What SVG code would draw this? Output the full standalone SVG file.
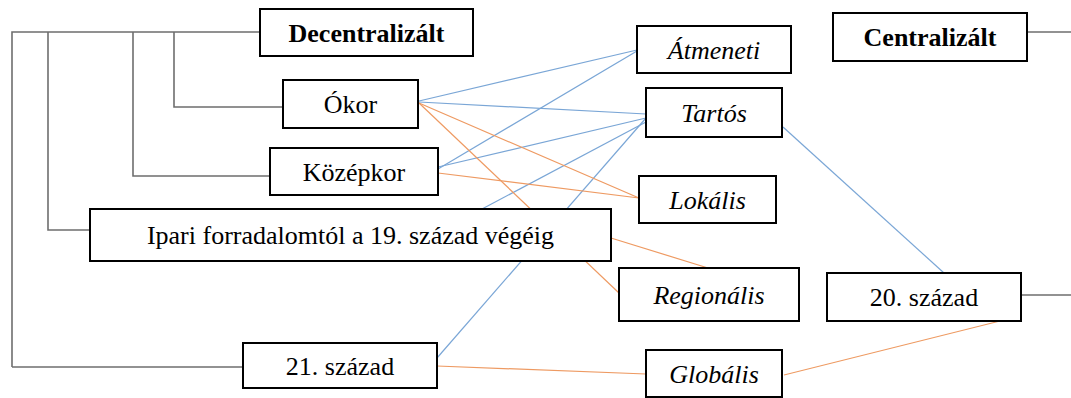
<svg xmlns="http://www.w3.org/2000/svg" width="1071" height="398" viewBox="0 0 1071 398">
<style>
.box{fill:#fff;stroke:#000;stroke-width:2}
text{font-family:'Liberation Serif','DejaVu Serif','Times New Roman',serif;font-size:26px;fill:#000;text-anchor:middle}
.b{font-weight:bold}
.i{font-style:italic}
.tree{fill:none;stroke:#6e6e6e;stroke-width:1.6}
.blue{stroke:#7aa6d6;stroke-width:1.2;fill:none}
.orange{stroke:#ee9a62;stroke-width:1.2;fill:none}
</style>
<rect width="1071" height="398" fill="#fff"/>
<g id="connectors">
<path class="tree" d="M12,367 V32 H260"/>
<path class="tree" d="M48,32 V230 H90"/>
<path class="tree" d="M133,32 V176 H270"/>
<path class="tree" d="M174,32 V107 H283"/>
<path class="tree" d="M243,367 H12"/>
<path class="tree" d="M1027,32 H1071"/>
<path class="tree" d="M1021,295 H1071"/>
<line class="blue" x1="419" y1="101" x2="637" y2="50"/>
<line class="blue" x1="419" y1="102" x2="646" y2="114"/>
<line class="blue" x1="438" y1="169" x2="637" y2="51"/>
<line class="blue" x1="438" y1="167" x2="646" y2="118"/>
<line class="blue" x1="482" y1="209" x2="646" y2="122"/>
<line class="blue" x1="437" y1="358" x2="646" y2="118"/>
<line class="blue" x1="783" y1="127" x2="944" y2="273"/>
<line class="orange" x1="419" y1="103" x2="639" y2="198"/>
<line class="orange" x1="419" y1="103" x2="619" y2="293"/>
<line class="orange" x1="438" y1="173" x2="639" y2="198"/>
<line class="orange" x1="611" y1="238" x2="708" y2="268"/>
<line class="orange" x1="437" y1="366" x2="646" y2="374"/>
<line class="orange" x1="784" y1="375" x2="1000" y2="321"/>
</g>
<g id="decentralizalt"><rect class="box" x="260" y="9" width="213" height="47"/><text class="b" x="366.5" y="42" font-family="Liberation Serif, serif">Decentralizált</text></g>
<g id="okor"><rect class="box" x="283" y="80" width="135" height="48"/><text x="350.5" y="113" font-family="Liberation Serif, serif">Ókor</text></g>
<g id="kozepkor"><rect class="box" x="270" y="148" width="168" height="47"/><text x="354" y="181" font-family="Liberation Serif, serif">Középkor</text></g>
<g id="ipari"><rect class="box" x="90" y="209" width="521" height="52"/><text x="350.5" y="244" font-family="Liberation Serif, serif">Ipari forradalomtól a 19. század végéig</text></g>
<g id="szazad21"><rect class="box" x="243" y="343" width="194" height="45"/><text x="340" y="375" font-family="Liberation Serif, serif">21. század</text></g>
<g id="atmeneti"><rect class="box" x="637" y="26" width="154" height="47"/><text class="i" x="714" y="59" font-family="Liberation Serif, serif">Átmeneti</text></g>
<g id="tartos"><rect class="box" x="646" y="88" width="136" height="49"/><text class="i" x="714" y="122" font-family="Liberation Serif, serif">Tartós</text></g>
<g id="lokalis"><rect class="box" x="639" y="176" width="137" height="47"/><text class="i" x="707.5" y="209" font-family="Liberation Serif, serif">Lokális</text></g>
<g id="regionalis"><rect class="box" x="619" y="268" width="180" height="53"/><text class="i" x="709" y="304" font-family="Liberation Serif, serif">Regionális</text></g>
<g id="globalis"><rect class="box" x="646" y="350" width="136" height="47"/><text class="i" x="714" y="383" font-family="Liberation Serif, serif">Globális</text></g>
<g id="centralizalt"><rect class="box" x="833" y="13" width="194" height="48"/><text class="b" x="930" y="46" font-family="Liberation Serif, serif">Centralizált</text></g>
<g id="szazad20"><rect class="box" x="827" y="273" width="194" height="48"/><text x="924" y="306" font-family="Liberation Serif, serif">20. század</text></g>
</svg>
